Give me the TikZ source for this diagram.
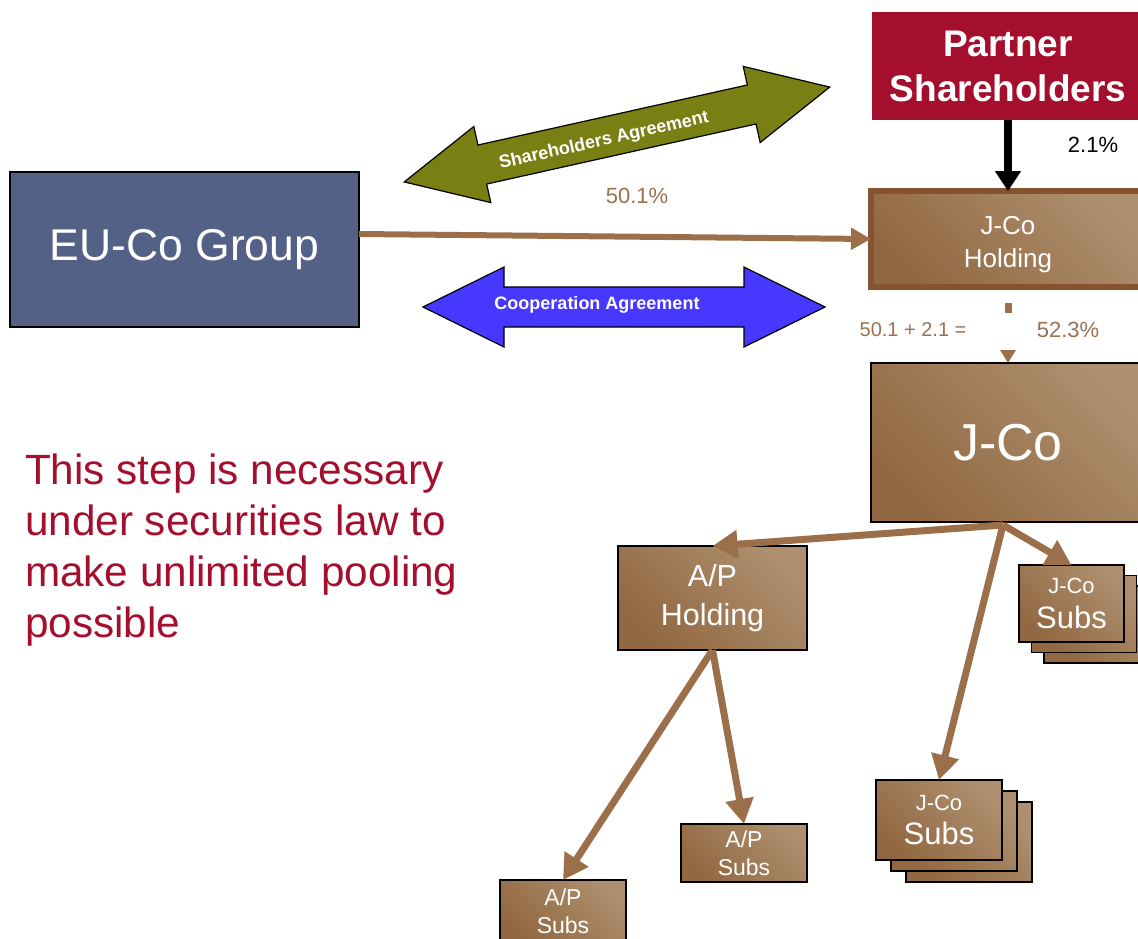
\documentclass[tikz,border=0pt]{standalone}
\usepackage{fontspec}
\setmainfont{Liberation Sans}
\usetikzlibrary{arrows.meta,calc}

\definecolor{crimson}{HTML}{A50F2E}
\definecolor{slate}{HTML}{546187}
\definecolor{bdark}{HTML}{916841}
\definecolor{blight}{HTML}{AE8F6F}
\definecolor{linkbrown}{HTML}{9B6F49}
\definecolor{rimbrown}{HTML}{85532F}
\definecolor{olivearrow}{HTML}{7A7F14}
\definecolor{bluearrow}{HTML}{4638FF}
\definecolor{labelbrown}{HTML}{9A7050}

\newcommand{\fsz}[2]{\fontsize{#1}{#2}\selectfont}

\begin{document}
\begin{tikzpicture}[x=1pt,y=-1pt,
  every node/.style={inner sep=0pt, outer sep=0pt},
  brownbox/.style={draw=black, line width=1.5pt, top color=blight, bottom color=bdark,
    shading angle=-45, text=white, align=center},
  link/.style={draw=linkbrown, line width=7pt, -{Triangle[length=25pt,width=27pt]}},
  pct/.style={text=labelbrown, font=\fsz{22}{26}},
  bigarrow/.style={draw=black, line width=1.2pt},
  arrowtext/.style={text=white, font=\bfseries\fsz{18}{20}}]

\useasboundingbox (0,0) rectangle (1138,938);
\clip (0,0) rectangle (1138,938);

% top-level boxes
\node[fill=crimson, minimum width=272pt, minimum height=108pt, text=white,
      font=\bfseries\fsz{37}{45}, align=center] (partner) at (1008,66) {Partner\\Shareholders};
\node[draw=rimbrown, line width=6pt, top color=blight, bottom color=bdark, shading angle=-45,
      minimum width=274pt, minimum height=96pt, text=white, align=center,
      font=\fsz{26}{30}] (jh) at (1008,239) {\rule{0pt}{29pt}J-Co\\[3pt]Holding};
\node[draw=black, line width=1.5pt, fill=slate, minimum width=349pt, minimum height=155pt,
      text=white, font=\fsz{44.5}{50}] (eu) at (184.5,249.5) {EU-Co Group};
\node[brownbox, minimum width=274pt, minimum height=159pt, font=\fsz{52}{60}] (jco) at (1008,442.5) {J-Co};
\node[brownbox, minimum width=189pt, minimum height=104pt, font=\fsz{30.5}{39}] (aph) at (712.5,598) {A/P\\Holding};

% stacked subsidiary boxes
\node[brownbox, minimum width=105pt, minimum height=77pt] (jsubAc) at (1096.5,624.5) {};
\node[brownbox, minimum width=105pt, minimum height=77pt] (jsubAb) at (1084,614) {};
\node[brownbox, minimum width=105pt, minimum height=77pt] (jsubA) at (1071.5,603.5)
  {\fsz{22}{26}J-Co\\[11pt]\fsz{31}{34}Subs};

\node[brownbox, minimum width=126pt, minimum height=80pt] (jsubBc) at (969,842) {};
\node[brownbox, minimum width=126pt, minimum height=80pt] (jsubBb) at (954,831) {};
\node[brownbox, minimum width=126pt, minimum height=80pt] (jsubB) at (939,820)
  {\fsz{22}{26}J-Co\\[11pt]\fsz{31}{34}Subs};

\node[brownbox, minimum width=126pt, minimum height=58pt, font=\fsz{23}{28}] (apsA) at (744,853) {A/P\\Subs};
\node[brownbox, minimum width=126pt, minimum height=62pt, font=\fsz{23}{28}] (apsB) at (563,911) {A/P\\Subs};

% agreement arrows
\begin{scope}[shift={(617,134.5)}, rotate=12.57]
  \path[bigarrow, fill=olivearrow] (-218,0) -- (-138,-39) -- (-138,-20) -- (138,-20) -- (138,-39)
    -- (218,0) -- (138,39) -- (138,20) -- (-138,20) -- (-138,39) -- cycle;
\end{scope}
\node[arrowtext, rotate=12.57] (shag) at (604,141) {Shareholders Agreement};

\begin{scope}[shift={(624,307)}]
  \path[bigarrow, fill=bluearrow] (-201,0) -- (-120,-40) -- (-120,-20) -- (120,-20) -- (120,-40)
    -- (201,0) -- (120,40) -- (120,20) -- (-120,20) -- (-120,40) -- cycle;
\end{scope}
\node[arrowtext] (coop) at (597,305) {Cooperation Agreement};

% ownership links
\draw[draw=black, line width=8pt, -{Triangle[length=20pt,width=25pt]}] (partner.south) -- (jh.north);
\node[font=\fsz{22}{26}] (pshare) at (1093,145) {2.1\%};

\draw[draw=linkbrown, line width=6pt, -{Triangle[length=20pt,width=21pt]}]
  ($(eu.north east)!0.4!(eu.south east)$) -- (jh.west);
\node[pct] (eushare) at (637,196) {50.1\%};

\draw[draw=linkbrown, line width=7pt, dash pattern=on 0pt off 16pt on 10pt off 200pt,
      -{Triangle[length=13pt,width=15pt]}] (jh.south) -- (jco.north);
\node[text=labelbrown, font=\fsz{20}{24}] (sumleft) at (913,330) {50.1 + 2.1 =};
\node[pct] (sumright) at (1068,330) {52.3\%};

\coordinate (fork) at ($(jco.south)+(-5,3)$);
\draw[link] (fork) -- (aph.north);
\draw[link] (fork) -- (jsubA.north);
\draw[link] (fork) -- (jsubB.north);
\draw[link] (aph.south) -- (apsA.north);
\draw[link] (aph.south) -- (apsB.north);

% note
\node[anchor=north west, align=left, text=crimson, font=\fsz{42.3}{51}] (note) at (25,454)
  {This step is necessary\\under securities law to\\make unlimited pooling\\possible};
\end{tikzpicture}
\end{document}
